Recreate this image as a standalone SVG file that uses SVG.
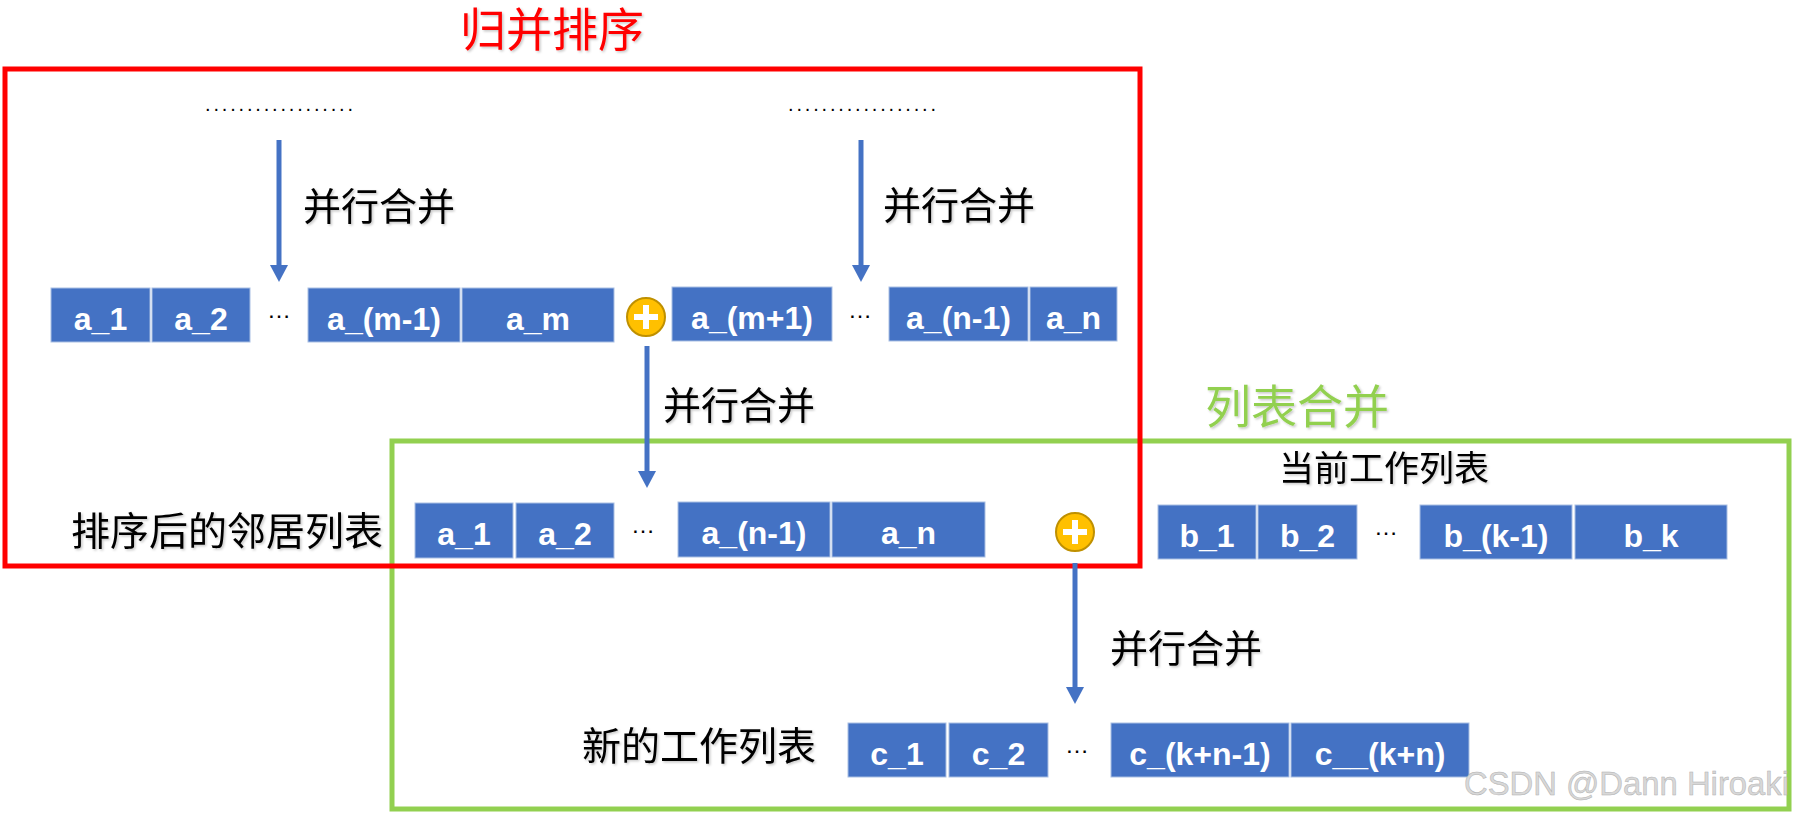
<svg xmlns="http://www.w3.org/2000/svg" width="1800" height="814" viewBox="0 0 1800 814">
<defs>
<filter id="sh" x="-10%" y="-20%" width="130%" height="150%">
<feDropShadow dx="1.5" dy="1.5" stdDeviation="1" flood-color="#000" flood-opacity="0.22"/>
</filter>
<marker id="ah" markerUnits="userSpaceOnUse" markerWidth="18" markerHeight="18" refX="1" refY="9" orient="auto">
<path d="M0,0 L17,9 L0,18 z" fill="#4472C4"/>
</marker>
<style>
.box{fill:#4472C4;stroke:#A9BFE3;stroke-width:1}
.bt{font-family:"Liberation Sans",Arial,sans-serif;font-weight:bold;font-size:32px;fill:#fff;text-anchor:middle}
.cn{font-family:"Noto Sans CJK SC","Noto Sans",sans-serif;fill:#000}
.el{font-family:"Liberation Sans",Arial,sans-serif;font-size:24px;fill:#000;text-anchor:middle}
.dots{font-family:"Liberation Sans",Arial,sans-serif;font-size:20px;fill:#000}
.arr{stroke:#4472C4;stroke-width:5;fill:none}
.plus{fill:#FFC000;stroke:#BF9000;stroke-width:2}
.pl{stroke:#fff;stroke-width:6;fill:none}
</style>
</defs>
<rect width="1800" height="814" fill="#fff"/>

<g id="merge-list-frame">
<rect x="392" y="441" width="1397" height="368" fill="none" stroke="#92D050" stroke-width="5"/>
<text x="1205" y="423" class="cn" font-size="46" style="fill:#92D050" filter="url(#sh)">列表合并</text>
</g>

<g id="merge-sort-frame">
<rect x="5" y="69" width="1135" height="497" fill="none" stroke="#FF0000" stroke-width="5"/>
<text x="460" y="46" class="cn" font-size="46" style="fill:#FF0000" filter="url(#sh)">归并排序</text>
</g>

<g id="dots-top">
<text x="205" y="111" class="dots" textLength="148" lengthAdjust="spacing">..................</text>
<text x="788" y="111" class="dots" textLength="148" lengthAdjust="spacing">..................</text>
</g>

<g id="connectors">
<line x1="279" y1="140" x2="279" y2="266" class="arr" marker-end="url(#ah)"/>
<line x1="861" y1="140" x2="861" y2="266" class="arr" marker-end="url(#ah)"/>
<line x1="647" y1="346" x2="647" y2="472" class="arr" marker-end="url(#ah)"/>
<line x1="1075" y1="563" x2="1075" y2="688" class="arr" marker-end="url(#ah)"/>
<g filter="url(#sh)">
<text x="303" y="220" class="cn" font-size="38">并行合并</text>
<text x="883" y="219" class="cn" font-size="38">并行合并</text>
<text x="663" y="419" class="cn" font-size="38">并行合并</text>
<text x="1110" y="662" class="cn" font-size="38">并行合并</text>
</g>
</g>

<g id="row-top">
<rect class="box" x="51" y="288" width="99" height="54"/><text class="bt" x="100.5" y="330">a_1</text>
<rect class="box" x="152" y="288" width="98" height="54"/><text class="bt" x="201" y="330">a_2</text>
<text class="el" x="279" y="318">…</text>
<rect class="box" x="308" y="288" width="152" height="54"/><text class="bt" x="384" y="330">a_(m-1)</text>
<rect class="box" x="462" y="288" width="152" height="54"/><text class="bt" x="538" y="330">a_m</text>
<rect class="box" x="672" y="287" width="160" height="54"/><text class="bt" x="752" y="329">a_(m+1)</text>
<text class="el" x="860" y="318">…</text>
<rect class="box" x="889" y="287" width="139" height="54"/><text class="bt" x="958.5" y="329">a_(n-1)</text>
<rect class="box" x="1030" y="287" width="87" height="54"/><text class="bt" x="1073.5" y="329">a_n</text>
</g>

<g id="plus-1">
<circle class="plus" cx="646" cy="317" r="19"/>
<path class="pl" d="M634,317 H658 M646,305 V329"/>
</g>

<g id="sorted-neighbors">
<text x="71" y="545" class="cn" font-size="39" filter="url(#sh)">排序后的邻居列表</text>
<rect class="box" x="415" y="503" width="98" height="55"/><text class="bt" x="464" y="545">a_1</text>
<rect class="box" x="516" y="503" width="98" height="55"/><text class="bt" x="565" y="545">a_2</text>
<text class="el" x="643" y="533">…</text>
<rect class="box" x="678" y="502" width="152" height="55"/><text class="bt" x="754" y="544">a_(n-1)</text>
<rect class="box" x="832" y="502" width="153" height="55"/><text class="bt" x="908.5" y="544">a_n</text>
</g>

<g id="plus-2">
<circle class="plus" cx="1075" cy="532" r="19"/>
<path class="pl" d="M1063,532 H1087 M1075,520 V544"/>
</g>

<g id="current-worklist">
<text x="1279" y="481" class="cn" font-size="35" filter="url(#sh)">当前工作列表</text>
<rect class="box" x="1158" y="505" width="98" height="54"/><text class="bt" x="1207" y="547">b_1</text>
<rect class="box" x="1258" y="505" width="99" height="54"/><text class="bt" x="1307.5" y="547">b_2</text>
<text class="el" x="1386" y="535">…</text>
<rect class="box" x="1420" y="505" width="152" height="54"/><text class="bt" x="1496" y="547">b_(k-1)</text>
<rect class="box" x="1575" y="505" width="152" height="54"/><text class="bt" x="1651" y="547">b_k</text>
</g>

<g id="new-worklist">
<text x="582" y="760" class="cn" font-size="39" filter="url(#sh)">新的工作列表</text>
<rect class="box" x="848" y="723" width="98" height="54"/><text class="bt" x="897" y="765">c_1</text>
<rect class="box" x="949" y="723" width="99" height="54"/><text class="bt" x="998.5" y="765">c_2</text>
<text class="el" x="1077" y="753">…</text>
<rect class="box" x="1111" y="723" width="178" height="54"/><text class="bt" x="1200" y="765">c_(k+n-1)</text>
<rect class="box" x="1291" y="723" width="178" height="54"/><text class="bt" x="1380" y="765">c__(k+n)</text>
</g>

<text x="1464" y="795" font-family="Liberation Sans, Arial, sans-serif" font-size="34" fill="#d8d8d8" stroke="#b0b0b0" stroke-width="0.5" textLength="325" lengthAdjust="spacingAndGlyphs">CSDN @Dann Hiroaki</text>
</svg>
